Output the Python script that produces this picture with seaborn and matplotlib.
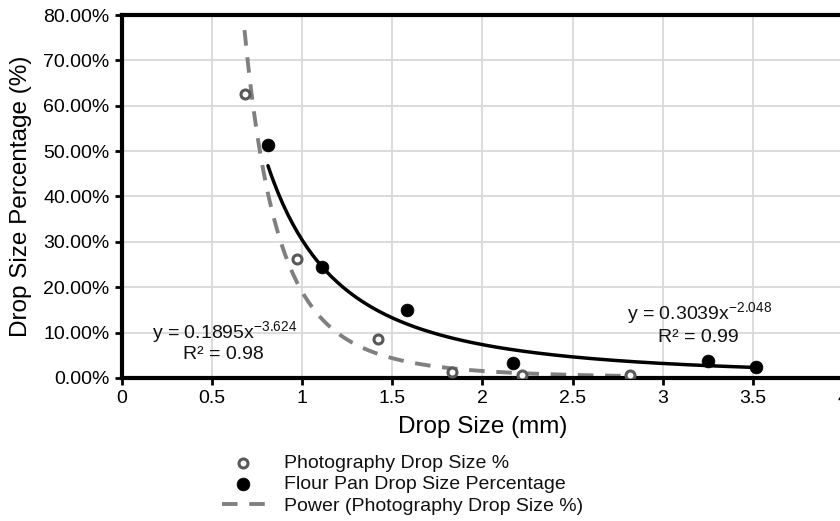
import numpy as np
import pandas as pd
import matplotlib
matplotlib.use("Agg")
import matplotlib.pyplot as plt
import seaborn as sns
from matplotlib.ticker import PercentFormatter, MultipleLocator

# ---- data ----
photo_size = [0.68, 0.97, 1.42, 1.83, 2.22, 2.82]
photo_pct = [62.5, 26.3, 8.6, 1.4, 0.7, 0.7]
flour_size = [0.81, 1.11, 1.58, 2.17, 3.25, 3.52]
flour_pct = [51.3, 24.4, 15.0, 3.3, 3.7, 2.4]

# trendline coefficients shown on the chart (y as fraction)
photo_a, photo_b, photo_r2 = 0.1895, -3.624, 0.98
flour_a, flour_b, flour_r2 = 0.3039, -2.048, 0.99

x_ticks = [0, 0.5, 1, 1.5, 2, 2.5, 3, 3.5, 4]
x_tick_labels = ["0", "0.5", "1", "1.5", "2", "2.5", "3", "3.5", "4"]

sns.set_theme(style="white")
plt.rcParams["font.family"] = ["Liberation Sans", "DejaVu Sans"]
plt.rcParams["mathtext.fontset"] = "custom"
plt.rcParams["mathtext.rm"] = "Liberation Sans"
plt.rcParams["mathtext.it"] = "Liberation Sans"

fig = plt.figure(figsize=(8.4, 5.21), dpi=100)
ax = fig.add_axes([0.1452, 0.2745, 0.8583, 0.6967])

photo_df = pd.DataFrame({"x": photo_size, "y": photo_pct})
flour_df = pd.DataFrame({"x": flour_size, "y": flour_pct})

px = np.linspace(min(photo_size), max(photo_size), 200)
fx = np.linspace(min(flour_size), max(flour_size), 200)
photo_fit = pd.DataFrame({"x": px, "y": 100 * photo_a * px ** photo_b})
flour_fit = pd.DataFrame({"x": fx, "y": 100 * flour_a * fx ** flour_b})

grid_c = "#d9d9d9"
ax.set_xlim(0, 4)
ax.set_ylim(0, 80)
ax.xaxis.set_major_locator(MultipleLocator(0.5))
ax.yaxis.set_major_locator(MultipleLocator(10))
ax.grid(True, color=grid_c, linewidth=1.3)
ax.set_axisbelow(True)

sns.lineplot(data=flour_fit, x="x", y="y", ax=ax, color="black", linewidth=2.5,
             label="_nolegend_", legend=False, zorder=2)
sns.lineplot(data=photo_fit, x="x", y="y", ax=ax, color="#808080", linewidth=2.8,
             linestyle=(0, (4, 3)), label="Power (Photography Drop Size %)", legend=False, zorder=2)
sns.scatterplot(data=photo_df, x="x", y="y", ax=ax, marker="o", s=42,
                facecolor="white", edgecolor="#595959", linewidth=2.2,
                label="Photography Drop Size %", legend=False, zorder=3)
sns.scatterplot(data=flour_df, x="x", y="y", ax=ax, marker="o", s=85,
                color="black", edgecolor="black", linewidth=0.5,
                label="Flour Pan Drop Size Percentage", legend=False, zorder=3)

ax.set_xticks(x_ticks)
ax.set_xticklabels(x_tick_labels)
ax.yaxis.set_major_formatter(PercentFormatter(xmax=100, decimals=2))
ax.tick_params(axis="both", labelsize=14, colors="black", length=5, width=2,
               direction="out", pad=4)
ax.tick_params(axis="x", bottom=True)
ax.tick_params(axis="y", left=True)

for side in ["left", "bottom", "top"]:
    ax.spines[side].set_color("black")
    ax.spines[side].set_linewidth(3)
ax.spines["right"].set_visible(False)

ax.set_xlabel("Drop Size (mm)", fontsize=17.5, color="black", labelpad=6)
ax.set_ylabel("Drop Size Percentage (%)", fontsize=17.5, color="black", labelpad=8)

ax.text(0.165, 10.1, r"y = 0.1895x$^{\mathregular{-3.624}}$", fontsize=14,
        ha="left", va="center", color="#111111")
ax.text(0.565, 5.1, "R² = 0.98", fontsize=14, ha="center", va="center", color="#111111")
ax.text(2.80, 14.3, r"y = 0.3039x$^{\mathregular{-2.048}}$", fontsize=14,
        ha="left", va="center", color="#111111")
ax.text(3.20, 9.0, "R² = 0.99", fontsize=14, ha="center", va="center", color="#111111")

handles, labels = ax.get_legend_handles_labels()
order = ["Photography Drop Size %", "Flour Pan Drop Size Percentage",
         "Power (Photography Drop Size %)"]
hmap = dict(zip(labels, handles))
leg = fig.legend([hmap[k] for k in order], order, loc="upper left",
                 bbox_to_anchor=(0.255, 0.143), bbox_transform=fig.transFigure,
                 frameon=False, fontsize=14, handlelength=2.2, handletextpad=1.0,
                 labelspacing=0.2, borderaxespad=0)
for t in leg.get_texts():
    t.set_color("#111111")

fig.savefig("out.png", dpi=100)
